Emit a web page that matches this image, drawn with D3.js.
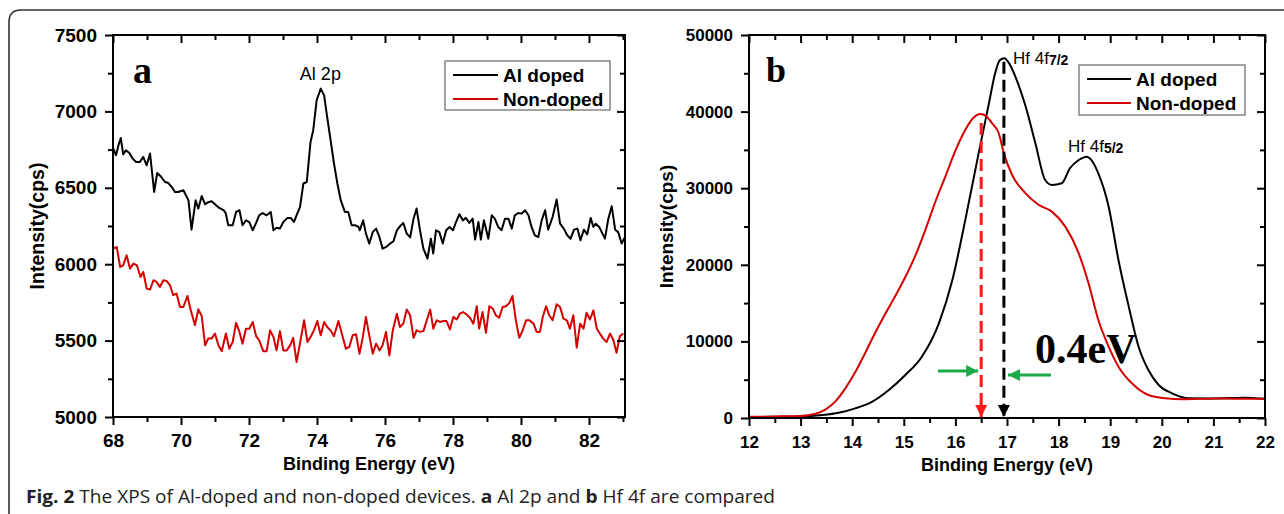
<!DOCTYPE html>
<html><head><meta charset="utf-8">
<script src="https://cdn.jsdelivr.net/npm/d3@7"></script>
<style>body{margin:0;background:#fff}svg{display:block}</style>
</head><body><svg id="c" width="1284" height="514"></svg>
<script>
// ---------- Panel a : Al 2p ----------
const alEnergyDoped = [68.01,68.09,68.16,68.23,68.30,68.38,68.48,68.58,68.68,68.79,68.89,68.99,69.09,69.21,69.30,69.40,69.53,69.63,69.73,69.82,69.92,70.07,70.17,70.22,70.31,70.43,70.51,70.61,70.71,70.80,70.90,71.00,71.10,71.26,71.32,71.39,71.52,71.62,71.72,71.81,71.91,72.01,72.11,72.21,72.30,72.40,72.52,72.64,72.72,72.81,72.91,73.01,73.13,73.23,73.32,73.42,73.50,73.60,73.70,73.81,73.89,73.99,74.11,74.21,74.30,74.40,74.50,74.60,74.70,74.82,74.92,75.02,75.12,75.22,75.26,75.36,75.44,75.54,75.64,75.74,75.84,75.93,76.05,76.15,76.25,76.35,76.44,76.54,76.64,76.74,76.84,76.93,77.03,77.13,77.25,77.35,77.42,77.50,77.60,77.70,77.80,77.90,78.00,78.09,78.19,78.29,78.38,78.48,78.58,78.65,78.75,78.82,78.91,79.04,79.14,79.23,79.33,79.43,79.53,79.63,79.73,79.82,79.92,80.02,80.12,80.22,80.31,80.41,80.51,80.61,80.71,80.80,80.93,81.05,81.15,81.26,81.36,81.46,81.56,81.66,81.75,81.85,81.95,82.05,82.13,82.20,82.30,82.47,82.57,82.67,82.77,82.86,82.96,83.06];
const alDoped = [6757,6713,6778,6826,6719,6746,6728,6691,6669,6669,6702,6647,6724,6473,6597,6576,6538,6531,6505,6473,6473,6484,6440,6418,6226,6418,6364,6446,6392,6406,6412,6392,6372,6353,6331,6255,6255,6342,6353,6255,6287,6276,6222,6270,6320,6335,6320,6342,6222,6238,6233,6276,6303,6303,6276,6331,6374,6528,6538,6800,6877,7073,7149,7105,6963,6812,6659,6528,6418,6342,6342,6255,6255,6244,6222,6287,6200,6135,6210,6233,6175,6102,6115,6135,6150,6222,6248,6270,6200,6175,6298,6364,6222,6102,6037,6167,6070,6222,6210,6135,6222,6244,6222,6276,6327,6287,6303,6270,6298,6161,6276,6161,6287,6167,6320,6298,6244,6222,6298,6298,6233,6320,6335,6331,6353,6320,6244,6189,6178,6287,6353,6226,6309,6423,6265,6233,6189,6167,6226,6233,6157,6226,6195,6303,6244,6265,6244,6167,6298,6379,6226,6210,6135,6178];
const alEnergyNon = [68.01,68.11,68.21,68.30,68.40,68.50,68.60,68.70,68.81,68.89,68.99,69.09,69.19,69.28,69.38,69.48,69.58,69.68,69.77,69.87,69.97,70.07,70.19,70.28,70.41,70.51,70.61,70.71,70.80,70.90,71.00,71.10,71.20,71.32,71.42,71.52,71.62,71.72,71.81,71.91,72.01,72.11,72.21,72.30,72.42,72.52,72.62,72.72,72.81,72.91,73.01,73.11,73.21,73.30,73.40,73.50,73.62,73.72,73.81,73.91,74.01,74.11,74.21,74.30,74.40,74.50,74.63,74.73,74.85,74.95,75.05,75.15,75.25,75.34,75.44,75.51,75.64,75.74,75.84,75.93,76.03,76.13,76.23,76.35,76.44,76.54,76.64,76.74,76.84,76.93,77.03,77.13,77.23,77.33,77.42,77.52,77.62,77.72,77.81,77.91,78.01,78.11,78.20,78.30,78.40,78.50,78.60,78.70,78.77,78.87,78.97,79.07,79.17,79.26,79.36,79.46,79.56,79.66,79.75,79.85,79.95,80.05,80.15,80.25,80.37,80.46,80.56,80.64,80.74,80.83,80.93,81.05,81.15,81.25,81.35,81.44,81.54,81.64,81.74,81.84,81.93,82.03,82.13,82.23,82.32,82.42,82.52,82.62,82.72,82.81,82.91,83.01];
const alNon = [6102,6113,5982,5993,6058,5971,6004,5993,5916,5949,5840,5834,5895,5884,5851,5895,5890,5862,5797,5808,5720,5720,5792,5705,5600,5705,5660,5469,5513,5513,5546,5469,5431,5546,5447,5491,5616,5557,5480,5578,5578,5622,5529,5502,5431,5431,5567,5524,5436,5562,5436,5436,5469,5518,5360,5480,5633,5491,5524,5567,5628,5535,5622,5589,5567,5529,5628,5546,5447,5458,5535,5541,5414,5513,5655,5567,5414,5480,5436,5469,5557,5403,5567,5676,5589,5611,5703,5666,5518,5567,5557,5562,5633,5703,5578,5633,5622,5628,5628,5573,5655,5638,5676,5687,5671,5650,5611,5725,5578,5687,5551,5725,5709,5666,5650,5720,5725,5747,5792,5633,5518,5567,5633,5633,5611,5557,5557,5655,5725,5666,5633,5738,5720,5644,5633,5578,5666,5454,5611,5578,5682,5638,5698,5578,5546,5513,5491,5546,5502,5420,5529,5546];
const alXMajor = [68,70,72,74,76,78,80,82];
const alXMinor = [69,71,73,75,77,79,81,83];
const alYMajor = [5000,5500,6000,6500,7000,7500];
const alYMinor = [5250,5750,6250,6750,7250];

// ---------- Panel b : Hf 4f ----------
const hfEnergyDoped = [12.0,12.5,13.0,13.42,13.74,14.06,14.39,14.71,15.03,15.35,15.68,15.94,16.19,16.45,16.65,16.77,16.86,16.95,17.05,17.16,17.36,17.55,17.74,17.87,18.06,18.22,18.39,18.55,18.62,18.77,18.97,19.16,19.36,19.55,19.74,19.94,20.2,20.52,20.9,21.36,21.6,22.0];
const hfDoped = [100,150,200,390,690,1260,2130,3650,5610,8000,12360,17970,25800,34550,41080,45000,46700,46960,46200,44600,40690,35860,31070,30420,30640,32600,33680,34120,33800,31940,27590,20630,14530,9310,6270,4310,3220,2570,2550,2600,2650,2500];
const hfEnergyNon = [12.0,12.5,13.0,13.29,13.48,13.68,13.87,14.06,14.26,14.45,14.65,14.84,15.03,15.23,15.42,15.61,15.81,16.0,16.19,16.35,16.48,16.6,16.71,16.84,16.94,17.1,17.36,17.62,17.87,18.13,18.39,18.58,18.77,18.97,19.16,19.42,19.74,20.07,20.4,20.71,21.2,21.6,22.0];
const hfNon = [150,200,260,560,1100,2200,3900,6000,8600,11200,13700,16000,18400,21300,24600,28200,31600,34900,37600,39200,39700,39400,38480,37170,34550,31720,29330,27810,26940,24980,21500,17600,12790,9310,6700,4530,3000,2570,2450,2500,2550,2500,2500];
const hfXMajor = [12,13,14,15,16,17,18,19,20,21,22];
const hfXMinor = [12.5,13.5,14.5,15.5,16.5,17.5,18.5,19.5,20.5,21.5];
const hfYMajor = [0,10000,20000,30000,40000,50000];
const hfYMinor = [5000,15000,25000,35000,45000];
const hfPeakDoped = 16.94, hfPeakNon = 16.5;

const seriesNames = ["Al doped","Non-doped"];
const seriesColors = ["#000000","#d40000"];
const xTitle = "Binding Energy (eV)";
const yTitle = "Intensity(cps)";

const svg = d3.select("#c");
svg.append("rect").attr("width",1284).attr("height",514).attr("fill","#fff");
svg.append("path").attr("d","M9,520 V22 Q9,10 21,10 H1300").attr("fill","none").attr("stroke","#333").attr("stroke-width",1.6);

const SANS = "'Liberation Sans', Arial, sans-serif";
const SERIF = "'Liberation Serif', 'Times New Roman', serif";

function panel(o){
  const g = svg.append("g");
  const x = d3.scaleLinear().domain(o.xDom).range([o.left,o.right]);
  const y = d3.scaleLinear().domain(o.yDom).range([o.bottom,o.top]);
  const line = d3.line().x(d=>x(d[0])).y(d=>y(d[1]));
  if(o.curve) line.curve(o.curve);
  o.series.forEach((s,i)=>{
    g.append("path").datum(s.e.map((e,k)=>[e,s.v[k]]))
      .attr("fill","none").attr("stroke",seriesColors[i]).attr("stroke-width",o.lw)
      .attr("stroke-linejoin","round").attr("d",line);
  });
  const tickStyle = sel => { sel.select(".domain").remove(); sel.selectAll("line").attr("stroke","#000").attr("stroke-width",2);
    sel.selectAll("text").attr("font-family",SANS).attr("font-weight","bold").attr("font-size",o.tfs).attr("fill","#000"); };
  g.append("g").attr("transform",`translate(0,${o.bottom})`).call(d3.axisBottom(x).tickValues(o.xMajor).tickSize(8).tickPadding(o.xpad).tickFormat(d3.format("d"))).call(tickStyle);
  g.append("g").attr("transform",`translate(0,${o.bottom})`).call(d3.axisBottom(x).tickValues(o.xMinor).tickSize(5).tickFormat("")).call(tickStyle);
  g.append("g").attr("transform",`translate(0,${o.top})`).call(d3.axisBottom(x).tickValues(o.xMajor).tickSize(8).tickFormat("")).call(tickStyle);
  g.append("g").attr("transform",`translate(0,${o.top})`).call(d3.axisBottom(x).tickValues(o.xMinor).tickSize(5).tickFormat("")).call(tickStyle);
  g.append("g").attr("transform",`translate(${o.left},0)`).call(d3.axisLeft(y).tickValues(o.yMajor).tickSize(8).tickPadding(o.ypad).tickFormat(d3.format("d"))).call(tickStyle);
  g.append("g").attr("transform",`translate(${o.left},0)`).call(d3.axisLeft(y).tickValues(o.yMinor).tickSize(5).tickFormat("")).call(tickStyle);
  g.append("g").attr("transform",`translate(${o.right},0)`).call(d3.axisLeft(y).tickValues(o.yMajor).tickSize(8).tickFormat("")).call(tickStyle);
  g.append("g").attr("transform",`translate(${o.right},0)`).call(d3.axisLeft(y).tickValues(o.yMinor).tickSize(5).tickFormat("")).call(tickStyle);
  g.append("rect").attr("x",o.left).attr("y",o.top).attr("width",o.right-o.left).attr("height",o.bottom-o.top)
    .attr("fill","none").attr("stroke","#000").attr("stroke-width",2);
  g.append("text").attr("x",(o.left+o.right)/2).attr("y",o.bottom+53).attr("text-anchor","middle")
    .attr("font-family",SANS).attr("font-weight","bold").attr("font-size",18).text(xTitle);
  g.append("text").attr("transform",`translate(${o.ytx},${(o.top+o.bottom)/2}) rotate(-90)`).attr("text-anchor","middle")
    .attr("font-family",SANS).attr("font-weight","bold").attr("font-size",o.yfs).text(yTitle);
  const L = o.legend;
  g.append("rect").attr("x",L.x).attr("y",L.y).attr("width",L.w).attr("height",L.h).attr("fill","#fff").attr("stroke","#666").attr("stroke-width",1.2);
  seriesNames.forEach((n,i)=>{
    const yy = L.y + 14 + i*24;
    g.append("line").attr("x1",L.x+8).attr("x2",L.x+L.lineLen+8).attr("y1",yy).attr("y2",yy).attr("stroke",seriesColors[i]).attr("stroke-width",2);
    g.append("text").attr("x",L.x+L.lineLen+13).attr("y",yy+6.5).attr("font-family",SANS).attr("font-weight","bold").attr("font-size",19).text(n);
  });
  return {g,x,y};
}

const A = panel({left:113,right:625,top:35,bottom:417,xDom:[68,83.06],yDom:[5000,7500],
  series:[{e:alEnergyDoped,v:alDoped},{e:alEnergyNon,v:alNon}],lw:2,tfs:19,xpad:9,ypad:8,ytx:44,yfs:19.5,
  xMajor:alXMajor,xMinor:alXMinor,yMajor:alYMajor,yMinor:alYMinor,
  legend:{x:445,y:61,w:165,h:49,lineLen:45}});
A.g.append("text").attr("x",133).attr("y",83).attr("font-family",SERIF).attr("font-weight","bold").attr("font-size",38).text("a");
A.g.append("text").attr("x",A.x(74.1)).attr("y",80).attr("text-anchor","middle").attr("font-family",SANS).attr("font-size",18).text("Al 2p");

const B = panel({left:749,right:1265,top:35,bottom:418,xDom:[12,22],yDom:[0,50000],
  series:[{e:hfEnergyDoped,v:hfDoped},{e:hfEnergyNon,v:hfNon}],lw:2,tfs:17,xpad:10,ypad:8,ytx:673,yfs:19,curve:d3.curveMonotoneX,
  xMajor:hfXMajor,xMinor:hfXMinor,yMajor:hfYMajor,yMinor:hfYMinor,
  legend:{x:1079,y:65,w:166,h:50,lineLen:44}});
B.g.append("text").attr("x",766).attr("y",82).attr("font-family",SERIF).attr("font-weight","bold").attr("font-size",36).text("b");

function peakLabel(xp,yp,sub){
  const t = B.g.append("text").attr("x",xp).attr("y",yp).attr("font-family",SANS).attr("font-size",17);
  t.append("tspan").text("Hf 4f");
  t.append("tspan").attr("font-size",14).attr("font-weight","bold").attr("dy",1).text(sub);
}
peakLabel(1013,64,"7/2");
peakLabel(1068,152,"5/2");

const defs = svg.append("defs");
[["ahRed","#ff1a1a"],["ahBlack","#000"],["ahGreen","#1aaa4a"]].forEach(([id,c])=>{
  defs.append("marker").attr("id",id).attr("viewBox","0 0 10 10").attr("refX",10).attr("refY",5)
   .attr("markerWidth",4).attr("markerHeight",4.5).attr("markerUnits","strokeWidth").attr("orient","auto")
   .append("path").attr("d","M0,0 L10,5 L0,10 Z").attr("fill",c);
});
B.g.append("line").attr("x1",B.x(hfPeakNon)).attr("x2",B.x(hfPeakNon)).attr("y1",B.y(38500)).attr("y2",B.y(0)-1)
  .attr("stroke","#ff1a1a").attr("stroke-width",3).attr("stroke-dasharray","12,6").attr("marker-end","url(#ahRed)");
B.g.append("line").attr("x1",B.x(hfPeakDoped)).attr("x2",B.x(hfPeakDoped)).attr("y1",B.y(46500)).attr("y2",B.y(0)-1)
  .attr("stroke","#000").attr("stroke-width",3).attr("stroke-dasharray","12,6").attr("marker-end","url(#ahBlack)");
B.g.append("line").attr("x1",938).attr("x2",B.x(hfPeakNon)-3).attr("y1",371).attr("y2",371)
  .attr("stroke","#1aaa4a").attr("stroke-width",3).attr("marker-end","url(#ahGreen)");
B.g.append("line").attr("x1",1051).attr("x2",B.x(hfPeakDoped)+4).attr("y1",375).attr("y2",375)
  .attr("stroke","#1aaa4a").attr("stroke-width",3).attr("marker-end","url(#ahGreen)");
B.g.append("text").attr("x",1035).attr("y",363).attr("font-family",SERIF).attr("font-weight","bold").attr("font-size",42).text("0.4eV");

const cap = svg.append("text").attr("x",26).attr("y",503).attr("font-family","'Open Sans', sans-serif").attr("font-size",18).attr("fill","#222")
  .attr("textLength",749).attr("lengthAdjust","spacingAndGlyphs");
cap.append("tspan").attr("font-weight","bold").text("Fig. 2");
cap.append("tspan").text(" The XPS of Al-doped and non-doped devices. ");
cap.append("tspan").attr("font-weight","bold").text("a");
cap.append("tspan").text(" Al 2p and ");
cap.append("tspan").attr("font-weight","bold").text("b");
cap.append("tspan").text(" Hf 4f are compared");
</script></body></html>
